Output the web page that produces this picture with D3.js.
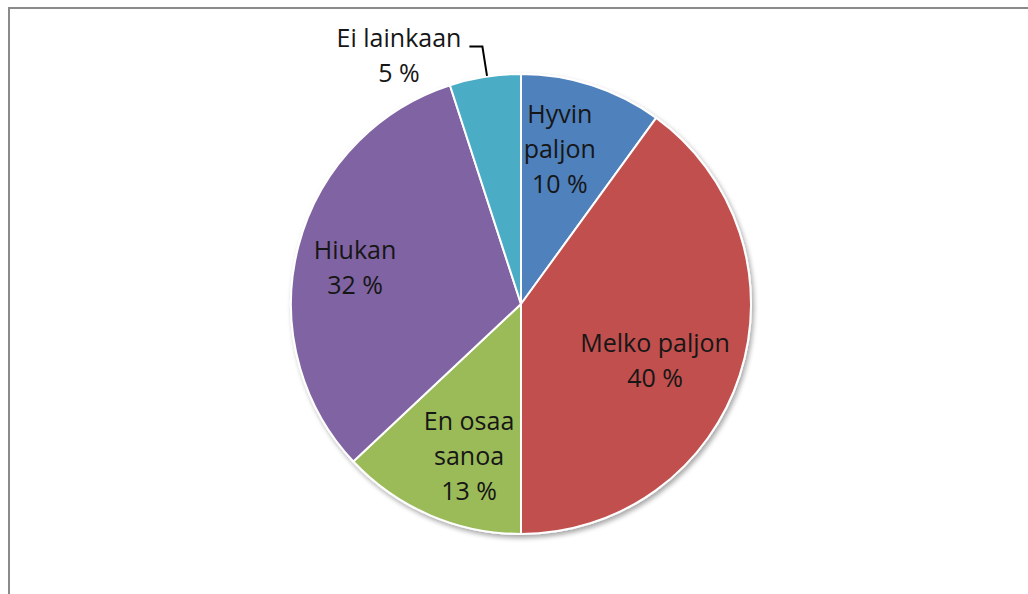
<!DOCTYPE html>
<html>
<head>
<meta charset="utf-8">
<script src="https://cdn.jsdelivr.net/npm/d3@7"></script>
<style>
  html, body { margin: 0; padding: 0; background: #fff; }
  svg { display: block; }
</style>
</head>
<body>
<svg id="chart" width="1028" height="594"></svg>
<script>
// Answer categories, clockwise from 12 o'clock
const categories = ["Hyvin paljon", "Melko paljon", "En osaa sanoa", "Hiukan", "Ei lainkaan"];
// Share of answers, percent
const values = [10, 40, 13, 32, 5];
// Label text lines for each slice
const labelLines = [
  ["Hyvin", "paljon"],
  ["Melko paljon"],
  ["En osaa", "sanoa"],
  ["Hiukan"],
  ["Ei lainkaan"]
];
const colors = ["#4F81BD", "#C0504D", "#9BBB59", "#8064A2", "#4BACC6"];

const W = 1028, H = 594;
const cx = 521, cy = 304, R = 230;
const svg = d3.select("#chart");

// chart frame (top and left edges visible)
svg.append("path")
  .attr("d", `M9,${H} V8 H${W}`)
  .attr("fill", "none")
  .attr("stroke", "#8a8a8a")
  .attr("stroke-width", 2);

const defs = svg.append("defs");
const f = defs.append("filter").attr("id", "shadow")
  .attr("x", "-10%").attr("y", "-10%").attr("width", "120%").attr("height", "120%");
f.append("feGaussianBlur").attr("in", "SourceAlpha").attr("stdDeviation", 2.5).attr("result", "b");
f.append("feOffset").attr("in", "b").attr("dx", 2).attr("dy", 3).attr("result", "o");
f.append("feComponentTransfer").attr("in", "o").attr("result", "s")
  .append("feFuncA").attr("type", "linear").attr("slope", 0.35);
const m = f.append("feMerge");
m.append("feMergeNode").attr("in", "s");
m.append("feMergeNode").attr("in", "SourceGraphic");

const data = categories.map((c, i) => ({ name: c, value: values[i], lines: labelLines[i], color: colors[i] }));

const pie = d3.pie().value(d => d.value).sort(null);
const arcs = pie(data);
const arc = d3.arc().innerRadius(0).outerRadius(R);
const labelArc = d3.arc().innerRadius(R * 0.7).outerRadius(R * 0.7);
const edgeArc = d3.arc().innerRadius(R).outerRadius(R);

const g = svg.append("g").attr("transform", `translate(${cx},${cy})`);

g.append("g").attr("filter", "url(#shadow)")
  .selectAll("path")
  .data(arcs)
  .join("path")
  .attr("d", arc)
  .attr("fill", d => d.data.color)
  .attr("stroke", "#fff")
  .attr("stroke-width", 2)
  .attr("stroke-linejoin", "round");

// label placement: inside labels are nudged from the slice centroid,
// the small slice gets an outside label with a leader line
const nudge = {
  "Hyvin paljon": [-11, -2],
  "Melko paljon": [-19, 7],
  "En osaa sanoa": [12, 4],
  "Hiukan": [-10, 4]
};
const outsideAt = { "Ei lainkaan": [-122, -249] };
const lineH = 35;
const fontSize = 25;

arcs.forEach(a => {
  const d = a.data;
  const outside = outsideAt[d.name];
  let x, y;
  if (outside) {
    [x, y] = outside;
  } else {
    const c = labelArc.centroid(a);
    const n = nudge[d.name];
    x = c[0] + n[0]; y = c[1] + n[1];
  }
  const lines = d.lines.concat([d3.format("d")(d.value) + "\u00a0%"]);
  const t = g.append("text")
    .attr("text-anchor", "middle")
    .attr("font-family", "'Open Sans', Lato, sans-serif")
    .attr("font-size", fontSize)
    .attr("fill", "#161616");
  const firstBaseline = y - (lines.length - 1) / 2 * lineH + 9;
  const spans = lines.map((ln, i) =>
    t.append("tspan")
      .attr("x", x)
      .attr("y", firstBaseline + i * lineH)
      .text(ln));
  if (outside) {
    const e = edgeArc.centroid(a);
    const w = spans[0].node().getComputedTextLength();
    const x0 = x + w / 2 + 8, ly = firstBaseline;
    g.append("polyline")
      .attr("points", [[x0, ly], [x0 + 13, ly], [e[0] + 2, e[1] - 1]].map(p => p.join(",")).join(" "))
      .attr("fill", "none")
      .attr("stroke", "#000")
      .attr("stroke-width", 2);
  }
});
</script>
</body>
</html>
